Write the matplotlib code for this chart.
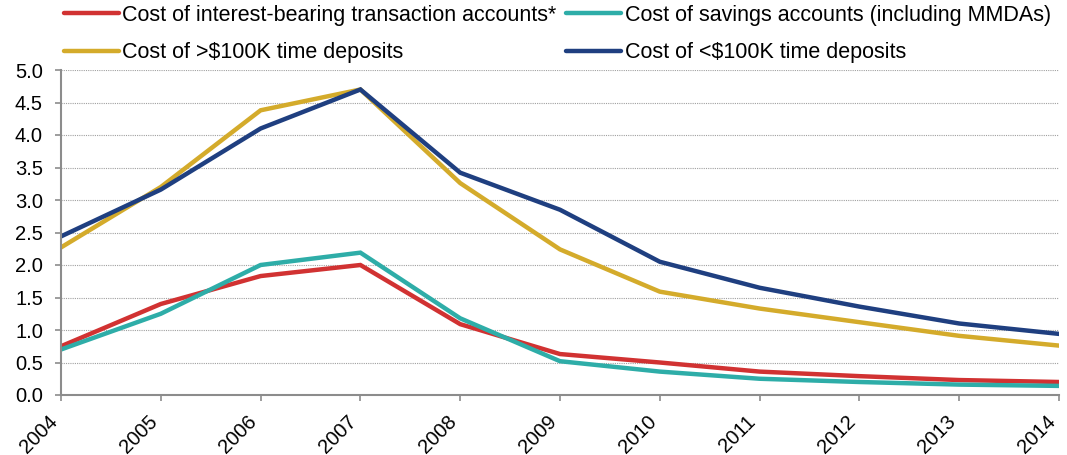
import matplotlib
matplotlib.use("Agg")
import matplotlib.pyplot as plt
from matplotlib.transforms import ScaledTranslation

years = [2004, 2005, 2006, 2007, 2008, 2009, 2010, 2011, 2012, 2013, 2014]
transaction = [0.75, 1.40, 1.83, 2.00, 1.09, 0.63, 0.50, 0.36, 0.29, 0.23, 0.20]
savings = [0.70, 1.25, 2.00, 2.19, 1.18, 0.52, 0.36, 0.25, 0.20, 0.16, 0.14]
time_over = [2.27, 3.20, 4.38, 4.70, 3.26, 2.24, 1.59, 1.33, 1.12, 0.91, 0.76]
time_under = [2.44, 3.16, 4.10, 4.70, 3.42, 2.85, 2.05, 1.65, 1.36, 1.10, 0.94]

labels = [
    "Cost of interest-bearing transaction accounts*",
    "Cost of savings accounts (including MMDAs)",
    "Cost of >$100K time deposits",
    "Cost of <$100K time deposits",
]
colors = ["#D13232", "#2EADA8", "#D4AB2B", "#1F3F80"]

plt.rcParams['font.family'] = ['Liberation Sans', 'DejaVu Sans']

fig = plt.figure(figsize=(10.67, 4.55), dpi=100)
ax = fig.add_axes([61/1067, 1-395/455, 998/1067, 325/455])

series = [transaction, savings, time_over, time_under]
handles = []
for s, c, l in zip(series, colors, labels):
    h, = ax.plot(years, s, color=c, lw=3.2, label=l, solid_capstyle='round', solid_joinstyle='miter')
    handles.append(h)

ax.set_xlim(2004, 2014)
ax.set_ylim(0, 5.0)
ax.set_yticks([i*0.5 for i in range(11)])
ax.set_yticklabels([f"{i*0.5:.1f}" for i in range(11)])
ax.set_xticks(years)
ax.set_xticklabels([str(y) for y in years], rotation=45, ha='right', va='top',
                   rotation_mode='default')
shift = ScaledTranslation(3/100, 0, fig.dpi_scale_trans)
for lbl in ax.get_xticklabels():
    lbl.set_transform(lbl.get_transform() + shift)

ax.grid(axis='y', color='#A0A0A0', linestyle=(0, (1, 1)), linewidth=0.8)
ax.set_axisbelow(True)
for sp in ['top', 'right']:
    ax.spines[sp].set_visible(False)
for sp in ['left', 'bottom']:
    ax.spines[sp].set_color('#8C8C8C')
    ax.spines[sp].set_linewidth(1.5)
ax.tick_params(axis='both', colors='#8C8C8C', length=4.5, width=1.2, labelcolor='black', labelsize=14.5)
ax.tick_params(axis='y', pad=8.5)
ax.tick_params(axis='x', pad=7.5)

order = [0, 2, 1, 3]
fig.legend([handles[i] for i in order], [labels[i] for i in order],
           loc='upper left', bbox_to_anchor=(64/1067, 1-5/455), ncol=2,
           frameon=False, fontsize=15.5, handlelength=2.55, handletextpad=0.15,
           columnspacing=0.47, labelspacing=0.75, borderpad=0, borderaxespad=0)

fig.savefig("out.png", dpi=100)
